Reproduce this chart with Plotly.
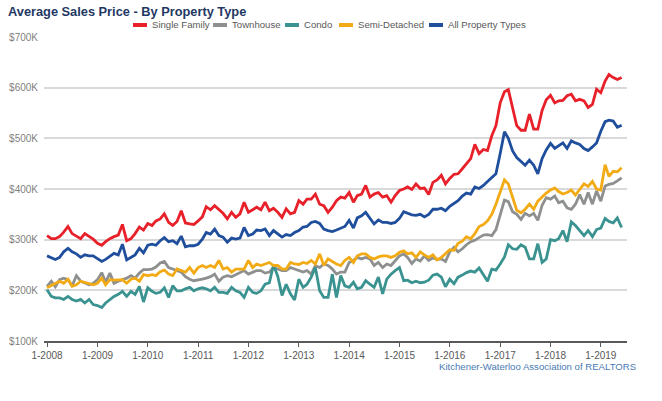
import plotly.graph_objects as go
import pandas as pd

# ---------------- data (values in $K, monthly from Jan 2008) ----------------
months = pd.date_range("2008-01-01", periods=138, freq="MS")

series_names = ["Single Family", "Townhouse", "Condo", "Semi-Detached", "All Property Types"]

single_family = [
    308, 302, 302, 306, 315, 326, 312, 307, 302, 312, 306, 301, 293, 289, 296, 302, 306, 309, 330, 298,
    302, 312, 325, 319, 332, 328, 337, 341, 351,
    334, 328, 336, 357, 333, 331, 330, 337, 345, 365, 359, 367, 360, 352, 341, 354, 344, 351, 374, 354,
    359, 364, 359, 374, 357, 362, 354, 344,
    361, 351, 354, 377, 370, 380, 380, 390, 370, 367, 354, 364, 377, 384, 382, 393, 374, 387, 390, 407,
    384, 390, 393, 384, 387, 374, 387, 397, 400,
    404, 399, 410, 401, 402, 389, 413, 418, 427, 410, 421, 429, 430, 440, 450, 460, 488, 470, 478, 476,
    505, 525, 570, 592, 596,
    560, 525, 516, 516, 548, 518, 518, 555, 576, 585, 570, 574, 575, 584, 587, 574, 577, 574, 561, 567,
    597, 590, 613, 626, 620, 616, 620,
]

townhouse = [
    208, 218, 207, 221, 224, 221, 209, 229, 218, 214, 211, 214, 221, 235, 216, 234, 214, 218, 221, 224,
    229, 224, 234, 241, 241, 242, 246, 254, 257,
    245, 242, 239, 236, 227, 222, 219, 220, 222, 224, 227, 232, 218, 226, 229, 227, 231, 234, 239, 232,
    236, 239, 239, 234, 236, 245, 242, 239,
    239, 245, 242, 239, 236, 239, 232, 249, 245, 252, 249, 242, 232, 236, 236, 255, 259, 265, 262, 265,
    262, 249, 255, 245, 252, 249, 259, 268, 272,
    265, 253, 262, 258, 268, 259, 264, 261, 262, 257, 276, 285, 276, 282, 290, 296, 299, 304, 309, 310,
    308, 320, 350, 378, 375,
    355, 350, 340, 352, 347, 352, 338, 368, 383, 380, 386, 373, 376, 363, 360, 370, 389, 370, 393, 370,
    396, 376, 406, 409, 411, 416, 422,
]

condo = [
    201, 188, 185, 185, 182, 188, 182, 179, 182, 175, 182, 172, 170, 166, 175, 182, 188, 192, 198, 188,
    198, 192, 208, 177, 205, 198, 194, 196, 205,
    186, 209, 199, 199, 203, 206, 199, 203, 205, 203, 199, 206, 196, 196, 194, 206, 199, 196, 186, 206,
    196, 194, 199, 212, 215, 250, 228, 190,
    212, 193, 181, 222, 206, 212, 226, 245, 199, 186, 186, 232, 186, 229, 209, 206, 216, 203, 206, 219,
    212, 206, 226, 193, 222, 232, 239, 245, 219,
    220, 215, 218, 215, 216, 220, 230, 232, 226, 207, 222, 213, 226, 230, 235, 238, 236, 244, 230, 218,
    242, 240, 252, 266, 290,
    282, 281, 290, 285, 262, 262, 292, 255, 262, 300, 298, 302, 318, 296, 335, 328, 318, 308, 318, 306,
    320, 323, 342, 336, 333, 343, 324,
]

semi_detached = [
    205, 209, 214, 218, 214, 222, 208, 211, 218, 216, 214, 211, 214, 224, 211, 221, 220, 221, 221, 214,
    222, 224, 218, 231, 229, 231, 229, 237, 240,
    232, 229, 242, 239, 236, 245, 234, 245, 249, 245, 249, 245, 259, 242, 245, 236, 242, 242, 242, 259,
    245, 252, 249, 252, 255, 249, 249, 242,
    242, 255, 252, 251, 255, 253, 259, 252, 272, 249, 262, 257, 252, 249, 259, 265, 255, 268, 272, 272,
    265, 262, 266, 268, 268, 265, 268, 275, 278,
    272, 274, 265, 276, 270, 265, 270, 260, 265, 272, 280, 279, 293, 297, 306, 302, 312, 326, 330, 337,
    350, 370, 395, 418, 410,
    382, 358, 353, 360, 370, 360, 376, 385, 392, 398, 402, 395, 390, 393, 398, 388, 400, 410, 405, 415,
    400, 398, 448, 425, 435, 434, 442,
]

all_types = [
    268, 265, 261, 265, 276, 283, 276, 272, 265, 270, 268, 268, 263, 257, 261, 268, 273, 270, 291, 260,
    265, 270, 283, 274, 289, 291, 289, 298, 304,
    296, 298, 292, 307, 286, 288, 288, 291, 301, 314, 311, 321, 308, 305, 295, 303, 301, 303, 324, 308,
    311, 319, 318, 321, 308, 318, 311, 305,
    310, 308, 314, 318, 325, 326, 334, 336, 332, 321, 318, 316, 319, 323, 326, 338, 323, 343, 347, 354,
    341, 331, 339, 334, 334, 332, 334, 342, 355,
    352, 349, 348, 350, 345, 350, 360, 360, 362, 357, 366, 372, 377, 386, 392, 390, 404, 401, 407, 415,
    422, 430, 470, 513, 500,
    475, 462, 455, 447, 457, 447, 430, 460, 477, 490, 480, 485, 491, 480, 495, 491, 488, 480, 476, 483,
    491, 514, 533, 536, 534, 522, 526,
]

y_ticks = [100, 200, 300, 400, 500, 600, 700]
y_tick_labels = ["$100K", "$200K", "$300K", "$400K", "$500K", "$600K", "$700K"]

series_values = [single_family, townhouse, condo, semi_detached, all_types]
colors = ["#E8202A", "#8E9090", "#3A9390", "#F2AB14", "#1F4E9C"]

# ---------------- figure ----------------
W, H = 662, 401
ML, MR, MT, MB = 44, 35, 37, 60
plot_w = W - ML - MR
plot_h = H - MT - MB


def px(x):
    return (x - ML) / plot_w


def py(y):
    return (H - MB - y) / plot_h


fig = go.Figure()
for name, vals, col in zip(series_names, series_values, colors):
    fig.add_trace(go.Scatter(x=months, y=vals, name=name, mode="lines",
                             line=dict(color=col, width=2.8), showlegend=False))

# custom legend (short swatches like the original)
legend_x = [133, 213, 285, 339, 429]
shapes = []
annotations = []
for name, col, lx in zip(series_names, colors, legend_x):
    shapes.append(dict(type="line", xref="paper", yref="paper",
                       x0=px(lx), x1=px(lx + 14), y0=py(25), y1=py(25),
                       line=dict(color=col, width=4)))
    annotations.append(dict(text=name, xref="paper", yref="paper", x=px(lx + 17), y=py(25),
                            xanchor="left", yanchor="middle", showarrow=False,
                            font=dict(family="Arial", size=9.6, color="#595959")))

annotations.append(dict(text="Kitchener-Waterloo Association of REALTORS", xref="paper", yref="paper",
                        x=px(638), y=py(366), xanchor="right", yanchor="middle", showarrow=False,
                        font=dict(family="Arial", size=9.6, color="#4A7AB5")))

fig.update_layout(
    width=W, height=H,
    margin=dict(l=ML, r=MR, t=MT, b=MB),
    paper_bgcolor="white", plot_bgcolor="white",
    title=dict(text="Average Sales Price - By Property Type", x=8 / W, xanchor="left", xref="container",
               y=1 - 12 / H, yanchor="middle", yref="container",
               font=dict(family="Arial", size=12.8, weight="bold", color="#1F3864")),
    shapes=shapes, annotations=annotations,
    showlegend=False,
    xaxis=dict(type="date", range=["2007-12-10", "2019-07-10"], tick0="2008-01-01", dtick="M12",
               tickformat="%-m-%Y", showgrid=False, showline=True, linecolor="#595959", linewidth=1.5,
               ticks="outside", ticklen=4, tickcolor="#595959", tickwidth=1, automargin=False,
               tickfont=dict(family="Arial", size=10, color="#595959"), zeroline=False),
    yaxis=dict(range=[100, 700], tickvals=y_ticks, ticktext=y_tick_labels, showgrid=True,
               gridcolor="#D9D9D9", gridwidth=1.5, zeroline=False, showline=False,
               ticklabelstandoff=5, automargin=False,
               tickfont=dict(family="Arial", size=10, color="#7F7F7F")),
)

fig.write_html("out.html", config={"displayModeBar": False},
               post_script="document.body.style.margin='0';document.body.style.padding='0';")
